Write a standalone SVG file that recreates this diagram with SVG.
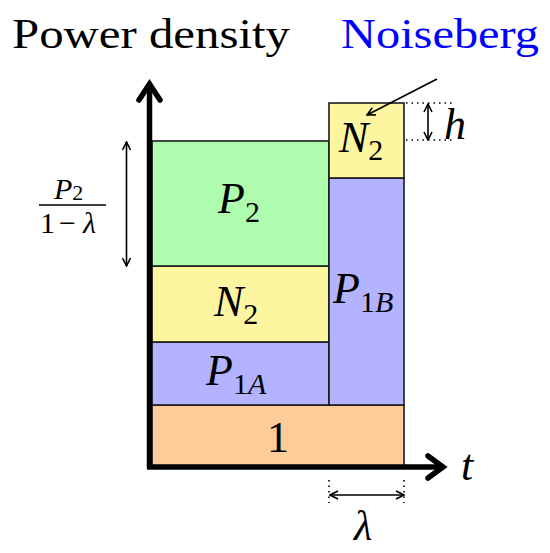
<svg xmlns="http://www.w3.org/2000/svg" width="550" height="553" viewBox="0 0 550 553">
<style>
.r{stroke:#1a1a1a;stroke-width:1.6}
.m{font-family:"Liberation Serif","Times New Roman",serif;font-style:italic;font-size:44px;fill:#000}
.s{font-size:30px;font-style:normal}
.si{font-style:italic}
.t{font-family:"Liberation Serif","Times New Roman",serif;font-size:42px}
.thin{stroke:#000;stroke-width:1.6;fill:none}
.dot{stroke:#000;stroke-width:1.6;stroke-dasharray:1.5 4;fill:none}
</style>
<defs>
<marker id="ah" viewBox="0 0 10 10" refX="9" refY="5" markerWidth="10" markerHeight="10" markerUnits="userSpaceOnUse" orient="auto-start-reverse">
<path d="M1,1 L9,5 L1,9" fill="none" stroke="#000" stroke-width="1.6"/>
</marker>
</defs>
<g id="block-one"><rect class="r" x="152" y="405" width="252" height="61" fill="#fdcc99"/><text class="m" x="278" y="452" text-anchor="middle" style="font-style:normal">1</text></g>
<g id="block-p1a"><rect class="r" x="152" y="342" width="177" height="63" fill="#b3b3ff"/><text class="m" x="206" y="385">P<tspan class="s" dy="9">1<tspan class="si">A</tspan></tspan></text></g>
<g id="block-n2"><rect class="r" x="152" y="266" width="177" height="76" fill="#fdf5a0"/><text class="m" x="214" y="316">N<tspan class="s" dy="8">2</tspan></text></g>
<g id="block-p2"><rect class="r" x="152" y="141" width="177" height="125" fill="#aefcae"/><text class="m" x="218" y="213">P<tspan class="s" dy="9">2</tspan></text></g>
<g id="block-p1b"><rect class="r" x="329" y="178" width="75" height="227" fill="#b3b3ff"/><text class="m" x="333" y="303">P<tspan class="s" dy="9">1<tspan class="si">B</tspan></tspan></text></g>
<g id="block-n2-top"><rect class="r" x="329" y="103" width="75" height="75" fill="#fdf5a0"/><text class="m" x="339" y="152">N<tspan class="s" dy="8">2</tspan></text></g>
<g id="labels">
<text class="t" x="12" y="48" textLength="278" lengthAdjust="spacingAndGlyphs">Power density</text>
<text class="t" x="341" y="48" fill="#0000ff" textLength="198" lengthAdjust="spacingAndGlyphs">Noiseberg</text>
<text class="m" x="461" y="480">t</text>
<text class="m" x="444" y="139">h</text>
<text class="m" x="354" y="540" style="font-size:42px">λ</text>
<text class="m" x="54" y="199" style="font-size:30px">P<tspan style="font-size:22px;font-style:normal" dy="1">2</tspan></text>
<text class="m" x="40" y="233" style="font-size:30px;font-style:normal">1</text>
<text class="m" x="59" y="233" style="font-size:30px;font-style:normal">−</text>
<text class="m" x="83" y="233" style="font-size:30px">λ</text>
<line x1="39" y1="205" x2="106" y2="205" stroke="#000" stroke-width="1.4"/>
</g>
<g id="connectors">
<line x1="149.5" y1="468" x2="149.5" y2="86" stroke="#000" stroke-width="5.5"/>
<path d="M139,100 L149.5,84 L160,100" fill="none" stroke="#000" stroke-width="5.5" stroke-linejoin="miter" stroke-linecap="round"/>
<line x1="147" y1="467" x2="440" y2="467" stroke="#000" stroke-width="5.5"/>
<path d="M428,456 L443,467 L428,478" fill="none" stroke="#000" stroke-width="5.5" stroke-linejoin="miter" stroke-linecap="round"/>
<line class="thin" x1="126.5" y1="142" x2="126.5" y2="266" marker-start="url(#ah)" marker-end="url(#ah)"/>
<line class="thin" x1="428" y1="104" x2="428" y2="140" marker-start="url(#ah)" marker-end="url(#ah)"/>
<line class="dot" x1="406" y1="103" x2="452" y2="103"/>
<line class="dot" x1="406" y1="140" x2="452" y2="140"/>
<line class="thin" x1="330" y1="495" x2="404" y2="495" marker-start="url(#ah)" marker-end="url(#ah)"/>
<line class="dot" x1="329" y1="480" x2="329" y2="503"/>
<line class="dot" x1="404" y1="480" x2="404" y2="503"/>
<line class="thin" x1="437" y1="79" x2="367" y2="115" marker-end="url(#ah)"/>
</g>
</svg>
